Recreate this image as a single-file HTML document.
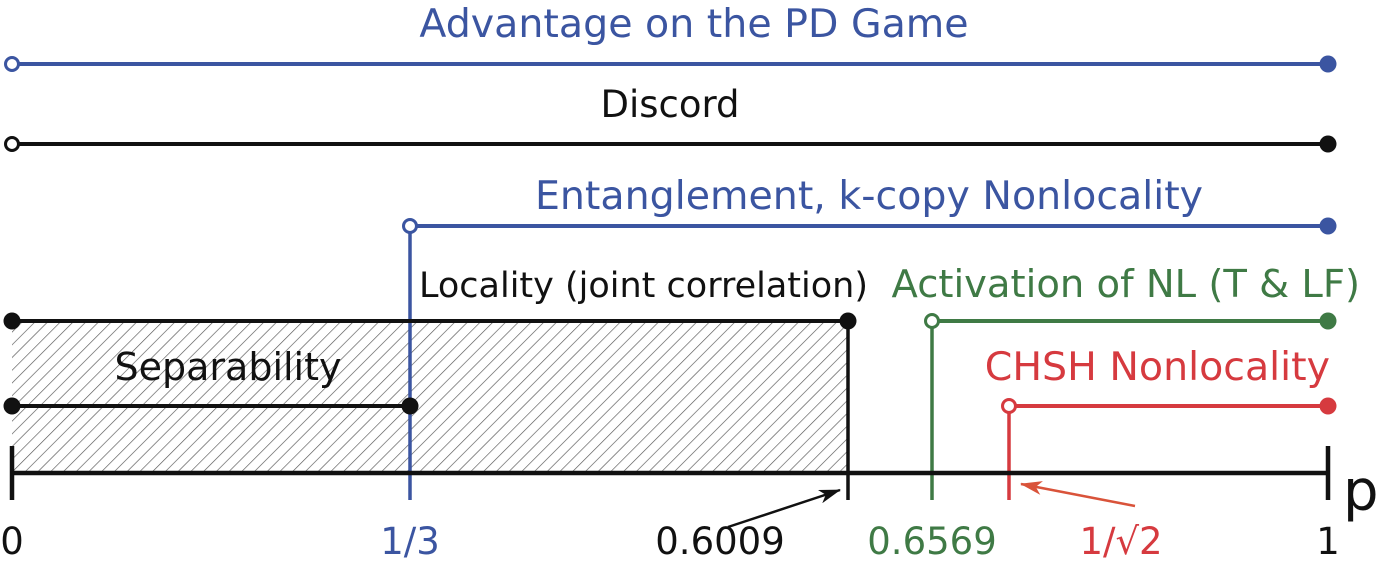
<!DOCTYPE html>
<html><head><meta charset="utf-8"><style>
html,body{margin:0;padding:0;background:#fff;}
svg{display:block;font-family:"DejaVu Sans","Liberation Sans",sans-serif;}
</style></head><body>
<svg id="chart" width="1395" height="569" viewBox="0 0 1395 569" xmlns="http://www.w3.org/2000/svg">
<defs>
<pattern id="hatch" patternUnits="userSpaceOnUse" width="9" height="9" patternTransform="rotate(45)">
<line x1="0" y1="0" x2="0" y2="9" stroke="#555" stroke-width="1.3"/>
</pattern>
<marker id="arrK" markerWidth="22" markerHeight="14" refX="21" refY="7" orient="auto" markerUnits="userSpaceOnUse" viewBox="0 0 22 14"><path d="M0,0 L22,7 L0,14 L6,7z" fill="#111"/></marker>
<marker id="arrR" markerWidth="22" markerHeight="14" refX="21" refY="7" orient="auto" markerUnits="userSpaceOnUse" viewBox="0 0 22 14"><path d="M0,0 L22,7 L0,14 L6,7z" fill="#d9533a"/></marker>
</defs>
<g id="layer"></g>
</svg>
<script>
// threshold values on the schematic p axis
const thresholds = [0, 1/3, 0.6009, 0.6569, 0.70711, 1];
const tickLabels = ["0", "1/3", "0.6009", "0.6569", "1/\u221A2", "1"];
// region names, start, end, open-start flag
const regionNames = ["Advantage on the PD Game","Discord","Entanglement, k-copy Nonlocality","Locality (joint correlation)","Activation of NL (T & LF)","Separability","CHSH Nonlocality"];
const regionStart = [0, 0, 1/3, 0, 0.6569, 0, 0.70711];
const regionEnd = [1, 1, 1, 0.6009, 1, 1/3, 1];
const regionOpenStart = [true, true, true, false, true, false, true];

// schematic (non-linear) axis: fixed breakpoints
const bpDom = [0, 1/3, 0.6009, 0.6569, 0.70711, 1];
const bpPx = [12, 410, 848, 932, 1009, 1328];
function xs(v){
  for(let i=0;i<bpDom.length-1;i++){
    if(v<=bpDom[i+1]||i===bpDom.length-2){
      const t=(v-bpDom[i])/(bpDom[i+1]-bpDom[i]);
      return bpPx[i]+t*(bpPx[i+1]-bpPx[i]);
    }
  }
}
const NS="http://www.w3.org/2000/svg";
const g=document.getElementById('layer');
function mk(tag,attrs,parent){const e=document.createElementNS(NS,tag);for(const k in attrs)e.setAttribute(k,attrs[k]);(parent||g).appendChild(e);return e;}
const BLUE="#3b55a1",GREEN="#3f7a45",RED="#d63a3f",BLACK="#111";
const rowY=[64,144,226,321,321,406,406];
const rowColor=[BLUE,BLACK,BLUE,BLACK,GREEN,BLACK,RED];
const textY=[37,117,209,297,297,380,380];
const textSize=[39.5,37,39.5,35,38.5,38,39.5];
const textShift=[24,0,0,0,0,0,0];
const textAnchorMode=["mid","mid","mid","right","right","sep","right"];
const AX=473;

// hatched locality area
const hatch=mk('rect',{x:xs(regionStart[3]),y:rowY[3],width:xs(regionEnd[3])-xs(regionStart[3]),height:AX-rowY[3],fill:"url(#hatch)"});



// vertical drop lines
const drops=[[2,BLUE],[3,BLACK],[4,GREEN],[6,RED]];
drops.forEach(([i,c])=>{
  const x=i===3?xs(regionEnd[i]):xs(regionStart[i]);
  const l=mk('line',{x1:x,y1:rowY[i],x2:x,y2:500,stroke:c,"stroke-width":3.5});
  
  
});

// axis
const ax=mk('line',{x1:xs(0),y1:AX,x2:xs(1),y2:AX,stroke:BLACK,"stroke-width":4.5});


[0,1].forEach(v=>{const t=mk('line',{x1:xs(v),y1:446,x2:xs(v),y2:500,stroke:BLACK,"stroke-width":4.5});

});
const p=mk('text',{x:1343,y:510,"font-size":56,fill:BLACK});p.textContent="p";



// tick labels
const tickColors=[BLACK,BLUE,BLACK,GREEN,RED,BLACK];
const tickOffsets=[0,0,-128,0,112,0];
thresholds.forEach((v,i)=>{
  const t=mk('text',{x:xs(v)+tickOffsets[i],y:554,"font-size":37,"text-anchor":"middle",fill:tickColors[i]});
  t.textContent=tickLabels[i];
  
  
});
// arrows
const a1=mk('line',{x1:728,y1:527,x2:840,y2:490,stroke:BLACK,"stroke-width":2.5,"marker-end":"url(#arrK)"});


const a2=mk('line',{x1:1135,y1:506,x2:1021,y2:484,stroke:"#d9533a","stroke-width":2.5,"marker-end":"url(#arrR)"});



// region lines, markers, labels
regionNames.forEach((n,i)=>{
  const x1=xs(regionStart[i]),x2=xs(regionEnd[i]),y=rowY[i],c=rowColor[i];
  const ln=mk('line',{x1:x1,y1:y,x2:x2,y2:y,stroke:c,"stroke-width":4});
  
  
  const s=mk('circle',{cx:x1,cy:y,r:regionOpenStart[i]?6.5:8.5,fill:regionOpenStart[i]?"#fff":c,stroke:c,"stroke-width":regionOpenStart[i]?3:0});
  
  
  const e=mk('circle',{cx:x2,cy:y,r:8.5,fill:c});
  
  
  let tx,anchor;
  if(textAnchorMode[i]==="mid"){tx=(x1+x2)/2+textShift[i];anchor="middle";}
  else if(textAnchorMode[i]==="sep"){tx=(x1+x2)/2+17;anchor="middle";}
  else {tx=x2+(i===4?32:i===3?20:2);anchor="end";}
  const t=mk('text',{x:tx,y:textY[i],"font-size":textSize[i],"text-anchor":anchor,fill:c});
  t.textContent=n;
  
  
});
</script>
</body></html>
